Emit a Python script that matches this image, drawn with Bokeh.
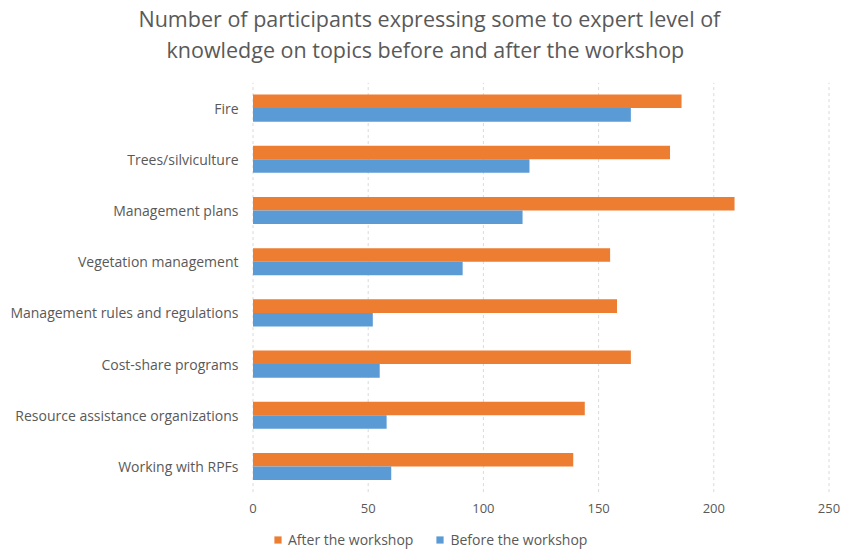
import numpy as np
from bokeh.plotting import figure
from bokeh.core.properties import value
from bokeh.models import (Range1d, Legend, LegendItem, Title, FixedTicker,
                          ColumnDataSource)
from bokeh.embed import file_html
from bokeh.resources import INLINE

categories = ["Fire", "Trees/silviculture", "Management plans",
              "Vegetation management", "Management rules and regulations",
              "Cost-share programs", "Resource assistance organizations",
              "Working with RPFs"]
after = [186, 181, 209, 155, 158, 164, 144, 139]
before = [164, 120, 117, 91, 52, 55, 58, 60]
x_ticks = [0, 50, 100, 150, 200, 250]
x_tick_labels = ["0", "50", "100", "150", "200", "250"]
series_names = ["After the workshop", "Before the workshop"]
title_lines = ["Number of participants expressing some to expert level of",
               "knowledge on topics before and after the workshop"]

ORANGE = "#ED7D31"
BLUE = "#5B9BD5"
TEXT = "#595959"
GRID = "#d9d9d9"
FONT = "Open Sans"

# layout geometry (pixels)
W, H = 841, 551
FRAME_LEFT, FRAME_TOP = 244, 82
ROW_PX = 51.2          # pixels per category row
X0_PX = 252.5          # pixel of value 0
PX_PER_UNIT = 576 / 250

n = len(categories)
pos = (n - 1) - np.arange(n)          # Fire at top
y_end = n - 0.5
y_start = y_end - (H - FRAME_TOP) / ROW_PX
x_start = -(X0_PX - FRAME_LEFT) / PX_PER_UNIT
x_end = (W - X0_PX) / PX_PER_UNIT
bar_h = 0.265
tick_label_y = y_end - (508 - FRAME_TOP) / ROW_PX

src = ColumnDataSource(dict(cat=categories, after=after, before=before,
                            y_after=pos + bar_h / 2, y_before=pos - bar_h / 2))
tsrc = ColumnDataSource(dict(x=x_ticks, label=x_tick_labels))

p = figure(width=W, height=H,
           x_range=Range1d(x_start, x_end), y_range=Range1d(y_start, y_end),
           output_backend="svg", toolbar_location=None,
           x_axis_location=None, y_axis_location="left",
           min_border_left=FRAME_LEFT, min_border_right=0,
           min_border_top=FRAME_TOP, min_border_bottom=0)
p.title.visible = False
p.outline_line_color = None
p.xgrid.grid_line_color = None
p.ygrid.grid_line_color = None

# dashed vertical gridlines across the category rows
p.segment(x0="x", x1="x", y0=-0.5, y1=y_end, source=tsrc,
          line_color=GRID, line_width=1, line_dash="3 3")

r_after = p.hbar(y="y_after", right="after", left=0, height=bar_h, source=src,
                 fill_color=ORANGE, line_color=None)
r_before = p.hbar(y="y_before", right="before", left=0, height=bar_h, source=src,
                  fill_color=BLUE, line_color=None)

# value axis labels
p.text(x="x", y=tick_label_y, text="label", source=tsrc,
       text_align="center", text_baseline="middle",
       text_font=value(FONT), text_font_size="13px", text_color=TEXT)

# category axis
ya = p.yaxis[0]
ya.ticker = FixedTicker(ticks=[int(v) for v in pos])
ya.major_label_overrides = {int(v): c for v, c in zip(pos, categories)}
ya.axis_line_color = None
ya.major_tick_line_color = None
ya.minor_tick_line_color = None
ya.major_label_text_color = TEXT
ya.major_label_text_font = FONT
ya.major_label_text_font_size = "14px"
ya.major_label_standoff = 0

legend = Legend(items=[LegendItem(label=series_names[0], renderers=[r_after]),
                       LegendItem(label=series_names[1], renderers=[r_before])],
                orientation="horizontal", location=(29, 2),
                background_fill_alpha=0, border_line_color=None,
                padding=0, margin=0, spacing=22,
                glyph_width=9, glyph_height=9, label_standoff=6,
                label_text_font=FONT, label_text_font_size="14px",
                label_text_color=TEXT, label_height=16,
                label_text_baseline="middle")
p.add_layout(legend, "center")

# spacer between the frame and the two title lines
p.add_layout(Title(text=" ", text_font_size="15px", standoff=0), "above")
p.add_layout(Title(text=title_lines[1], align="left", offset=166 - FRAME_LEFT,
                   text_font=FONT, text_font_size="21.5px", text_color=TEXT,
                   text_font_style="normal", standoff=0), "above")
p.add_layout(Title(text=title_lines[0], align="left", offset=138 - FRAME_LEFT,
                   text_font=FONT, text_font_size="21.5px", text_color=TEXT,
                   text_font_style="normal", standoff=0), "above")

open("out.html", "w").write(file_html(p, INLINE))
